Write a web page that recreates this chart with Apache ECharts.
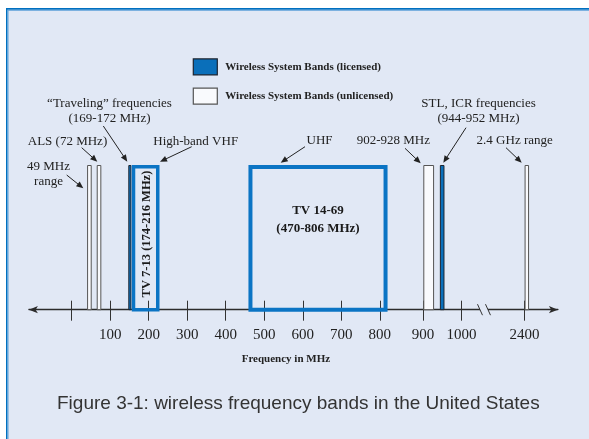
<!DOCTYPE html>
<html>
<head>
<meta charset="utf-8">
<script src="https://cdn.jsdelivr.net/npm/echarts@6/dist/echarts.min.js"></script>
<style>
  html, body { margin: 0; padding: 0; background: #ffffff; }
  #chart { width: 589px; height: 439px; }
</style>
</head>
<body>
<div id="chart"></div>
<script>
// ---------------- DATA ----------------
const bandNames = ['49 MHz range', 'ALS (72 MHz)', 'Traveling (169-172 MHz)', 'TV 7-13 (174-216 MHz)',
                   'TV 14-69 (470-806 MHz)', '902-928 MHz', 'STL, ICR (944-952 MHz)', '2.4 GHz range'];
const bandStartMHz = [40, 65, 147, 156, 459, 901, 944, 2400];
const bandEndMHz   = [52, 77, 155, 228, 818, 929, 956, 2483];
const bandLicensed = [false, false, true, true, true, false, true, false];
const bandInnerLabel = ['', '', '', 'TV 7-13 (174-216 MHz)', 'TV 14-69\n(470-806 MHz)', '', '', ''];
const bandHeight = [1, 1, 1, 1, 1, 1, 1, 1];

const tickFreqs  = [0, 100, 200, 300, 400, 500, 600, 700, 800, 900, 1000, 2400];
const tickLabels = ['', '100', '200', '300', '400', '500', '600', '700', '800', '900', '1000', '2400'];
const axisBreakMHz = 1500;

const seriesNames = ['Wireless System Bands (licensed)', 'Wireless System Bands (unlicensed)'];
const annotationTexts = ['49 MHz\nrange', 'ALS (72 MHz)', '\u201cTraveling\u201d frequencies\n(169-172 MHz)',
                         'High-band VHF', 'UHF', '902-928 MHz', 'STL, ICR frequencies\n(944-952 MHz)', '2.4 GHz range'];
const axisTitle = 'Frequency in MHz';
const caption = 'Figure 3-1: wireless frequency bands in the United States';

// ---------------- BROKEN-AXIS SCALE ----------------
const SCALE_FREQ = [0, 800, 900, 1000, 2400, 2500];
const SCALE_AXIS = [0, 800, 912, 1012, 1176, 1190];
function interp(v, from, to) {
  for (let i = 1; i < from.length; i++) {
    if (v <= from[i] || i === from.length - 1) {
      const t = (v - from[i - 1]) / (from[i] - from[i - 1]);
      return to[i - 1] + t * (to[i] - to[i - 1]);
    }
  }
}
const toAxis = f => interp(f, SCALE_FREQ, SCALE_AXIS);

const tickAxis = tickFreqs.map(toAxis);
const labelAxis = tickAxis.filter((v, i) => tickLabels[i] !== '');

// ---------------- STYLE ----------------
const SERIF = '"Liberation Serif", "Times New Roman", serif';
const BG = '#E1E8F5';
const BLUE = '#0B74C4';
const INK = '#222222';

function renderBand(params, api) {
  const i = api.value(3);
  const p0 = api.coord([api.value(0), 0]);
  const p1 = api.coord([api.value(1), api.value(2)]);
  const x = p0[0], y = p1[1], w = p1[0] - p0[0], h = p0[1] - p1[1];
  const children = [];
  if (bandLicensed[i] && bandInnerLabel[i]) {
    const lw = w > 100 ? 4 : 3.5;
    children.push({
      type: 'rect',
      shape: { x: x + lw / 2, y: y + lw / 2, width: w - lw, height: h - lw / 2 },
      style: { fill: 'rgba(0,0,0,0)', stroke: BLUE, lineWidth: lw }
    });
    const vertical = w < 60;
    children.push({
      type: 'text',
      x: vertical ? x + w / 2 + 1.5 : x + w / 2,
      y: p0[1] - h * (vertical ? 0.523 : 0.62),
      rotation: vertical ? Math.PI / 2 : 0,
      style: {
        text: bandInnerLabel[i], fill: '#1a1a1a',
        font: 'bold ' + (vertical ? 12.5 : 13) + 'px ' + SERIF,
        align: 'center', verticalAlign: 'middle', textAlign: 'center', textVerticalAlign: 'middle',
        lineHeight: 18
      }
    });
  } else if (bandLicensed[i]) {
    children.push({
      type: 'rect',
      shape: { x: x + 0.5, y: y + 0.5, width: w - 1, height: h - 0.5 },
      style: { fill: '#0A6FBA', stroke: '#1c2430', lineWidth: 1 }
    });
  } else {
    children.push({
      type: 'rect',
      shape: { x: x + 0.5, y: y + 0.5, width: w - 1, height: h - 0.5 },
      style: { fill: '#F9FAFD', stroke: '#555555', lineWidth: 1 }
    });
  }
  return { type: 'group', children };
}

function bandData(licensed) {
  const out = [];
  bandNames.forEach((n, i) => {
    if (bandLicensed[i] === licensed) {
      out.push({ name: n, value: [toAxis(bandStartMHz[i]), toAxis(bandEndMHz[i]), bandHeight[i], i] });
    }
  });
  return out;
}

function renderBreak(params, api) {
  const c = api.coord([api.value(0), 0]);
  const cx = c[0], cy = c[1];
  return {
    type: 'group',
    children: [
      { type: 'rect', shape: { x: cx - 4, y: cy - 2, width: 8, height: 4 }, style: { fill: BG } },
      { type: 'line', shape: { x1: cx - 6.5, y1: cy - 5.5, x2: cx - 1.5, y2: cy + 5.5 }, style: { stroke: '#333', lineWidth: 1 } },
      { type: 'line', shape: { x1: cx + 1.5, y1: cy - 5.5, x2: cx + 6.5, y2: cy + 5.5 }, style: { stroke: '#333', lineWidth: 1 } }
    ]
  };
}

// ---------------- ANNOTATION LAYOUT (pixels) ----------------
const annoLayout = [
  { x: 48.5,  y: 174.3, from: [66.7, 175],   to: [83.3, 188.3] },
  { x: 67.5,  y: 141.7, from: [81.7, 147.7], to: [97.3, 161.7] },
  { x: 109.5, y: 111.2, from: [103.3, 126],  to: [127.3, 161.7] },
  { x: 195.7, y: 141.7, from: [191.7, 146.7], to: [160, 161.7] },
  { x: 319.5, y: 140.5, from: [305, 146.7],  to: [280.7, 162.7] },
  { x: 393.3, y: 141,   from: [405, 148.3],  to: [420.7, 163.3] },
  { x: 478.5, y: 111.3, from: [466, 127.7],  to: [443.3, 162.7] },
  { x: 514.7, y: 140.7, from: [506, 147.7],  to: [521.7, 162.7] }
];

function arrowEls(from, to) {
  const ang = Math.atan2(to[1] - from[1], to[0] - from[0]);
  const L = 7, W = 3;
  const c = Math.cos(ang), s = Math.sin(ang);
  const bx = to[0] - L * c, by = to[1] - L * s;
  return [
    { type: 'line', shape: { x1: from[0], y1: from[1], x2: bx + c, y2: by + s }, style: { stroke: INK, lineWidth: 1 } },
    { type: 'polygon', shape: { points: [[to[0], to[1]], [bx + W * s, by - W * c], [bx - W * s, by + W * c]] }, style: { fill: INK } }
  ];
}

const graphics = [
  // frame
  { type: 'rect', shape: { x: 0, y: 0, width: 589, height: 8 }, style: { fill: '#ffffff' } },
  { type: 'rect', shape: { x: 0, y: 0, width: 6, height: 439 }, style: { fill: '#ffffff' } },
  { type: 'rect', shape: { x: 6, y: 8, width: 583, height: 1.7 }, style: { fill: '#0070C0' } },
  { type: 'rect', shape: { x: 6, y: 8, width: 1.5, height: 431 }, style: { fill: '#0070C0' } },
  { type: 'rect', shape: { x: 7.5, y: 9.7, width: 581.5, height: 1.1 }, style: { fill: '#5A9FD8' } },
  { type: 'rect', shape: { x: 7.5, y: 9.7, width: 1, height: 429.3 }, style: { fill: '#5A9FD8' } }
];
annotationTexts.forEach((t, i) => {
  const a = annoLayout[i];
  graphics.push({
    type: 'text', x: a.x, y: a.y,
    style: { text: t, font: '13px ' + SERIF, fill: INK, lineHeight: 14.5,
             align: 'center', verticalAlign: 'middle', textAlign: 'center', textVerticalAlign: 'middle' }
  });
  arrowEls(a.from, a.to).forEach(e => graphics.push(e));
});

// ---------------- CHART ----------------
const AXIS_MIN = -111.1, AXIS_MAX = 1262.5;
const chart = echarts.init(document.getElementById('chart'), null, { renderer: 'canvas' });
chart.setOption({
  animation: false,
  backgroundColor: BG,
  title: {
    text: caption, left: 57, top: 394, padding: 0,
    textStyle: { fontFamily: '"Liberation Sans", Arial, sans-serif', fontSize: 19, fontWeight: 'normal', color: '#333333' }
  },
  legend: {
    orient: 'vertical', left: 192.7, top: 58.3, padding: 0,
    itemWidth: 24, itemHeight: 16, itemGap: 12, selectedMode: false,
    textStyle: { fontFamily: SERIF, fontWeight: 'bold', fontSize: 11, color: INK, padding: [0, 0, 0, 3] },
    data: [
      { name: seriesNames[0], icon: 'rect', itemStyle: { color: '#0A6FBA', borderColor: '#1c2430', borderWidth: 1.2 } },
      { name: seriesNames[1], icon: 'rect', itemStyle: { color: '#F9FAFD', borderColor: '#555555', borderWidth: 1.2 } }
    ]
  },
  grid: { left: 28.9, right: 31.1, top: 165, bottom: 129.3, containLabel: false },
  xAxis: [{
    type: 'value', min: AXIS_MIN, max: AXIS_MAX, position: 'bottom',
    axisLine: { show: true, symbol: ['arrow', 'arrow'], symbolSize: [5.5, 9], lineStyle: { color: '#2b2b2b', width: 1.3 } },
    axisTick: { show: true, customValues: tickAxis, length: 11, lineStyle: { color: '#333', width: 1 } },
    axisLabel: {
      customValues: labelAxis, margin: 18, fontFamily: SERIF, fontSize: 15, color: INK,
      formatter: v => { const k = tickAxis.findIndex(a => Math.abs(a - v) < 0.01); return k >= 0 ? tickLabels[k] : ''; }
    },
    splitLine: { show: false },
    name: axisTitle, nameLocation: 'middle', nameGap: 44,
    nameTextStyle: { fontFamily: SERIF, fontWeight: 'bold', fontSize: 11, color: INK, padding: [0, 15, 0, 0] }
  }, {
    type: 'value', min: AXIS_MIN, max: AXIS_MAX, position: 'bottom', gridIndex: 0,
    axisLine: { show: false },
    axisTick: { show: true, inside: true, customValues: tickAxis, length: 9, lineStyle: { color: '#333', width: 1 } },
    axisLabel: { show: false },
    splitLine: { show: false }
  }],
  yAxis: { type: 'value', min: 0, max: 1, show: false },
  series: [
    { type: 'custom', name: seriesNames[0], xAxisIndex: 0, renderItem: renderBand, clip: false,
      itemStyle: { color: '#0A6FBA' }, encode: { x: [0, 1], y: 2 }, data: bandData(true), silent: true },
    { type: 'custom', name: seriesNames[1], xAxisIndex: 0, renderItem: renderBand, clip: false,
      itemStyle: { color: '#F9FAFD' }, encode: { x: [0, 1], y: 2 }, data: bandData(false), silent: true },
    { type: 'custom', name: 'axis break', xAxisIndex: 0, renderItem: renderBreak, clip: false,
      encode: { x: 0, y: 1 }, data: [[toAxis(axisBreakMHz), 0]], silent: true, z: 5 }
  ],
  graphic: graphics
});
</script>
</body>
</html>
